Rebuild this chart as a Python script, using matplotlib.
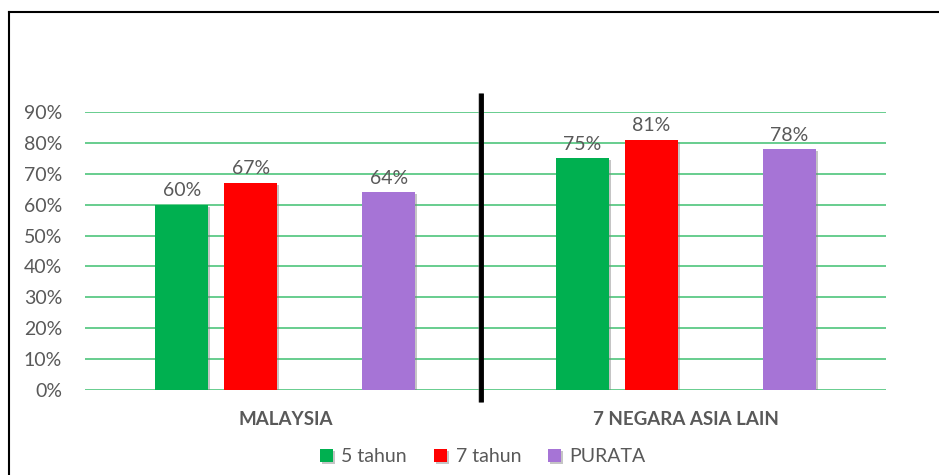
import matplotlib
matplotlib.use("Agg")
import matplotlib.pyplot as plt
import matplotlib.patheffects as pe
from matplotlib.lines import Line2D
import numpy as np

categories = ["MALAYSIA", "7 NEGARA ASIA LAIN"]
series_names = ["5 tahun", "7 tahun", "PURATA"]
values_5 = [0.60, 0.75]
values_7 = [0.67, 0.81]
values_avg = [0.64, 0.78]
yticks = [0.0, 0.1, 0.2, 0.3, 0.4, 0.5, 0.6, 0.7, 0.8, 0.9]

colors = ["#00B050", "#FF0000", "#A674D6"]
text_gray = "#595959"
grid_green = "#5CC986"

plt.rcParams["font.family"] = ["Lato", "DejaVu Sans"]

fig = plt.figure(figsize=(9.39, 4.75), dpi=100)
ax = fig.add_axes([85/939, 85/475, 801/939, 278/475])

x = np.arange(len(categories))
slot = 0.1723
width = 0.1323
offsets = [-1.5 * slot, -0.5 * slot, 1.5 * slot]
series = [values_5, values_7, values_avg]

shadow = [pe.SimplePatchShadow(offset=(1.5, -1.5), shadow_rgbFace="#7f7f7f", alpha=0.45), pe.Normal()]
for vals, off, col, name in zip(series, offsets, colors, series_names):
    bars = ax.bar(x + off, vals, width=width, color=col, label=name, zorder=3)
    for b in bars:
        b.set_path_effects(shadow)
    for xi, v in zip(x + off, vals):
        ax.annotate(f"{v*100:.0f}%", (xi, v), xytext=(0, 4), textcoords="offset points",
                    ha="center", va="bottom", fontsize=14, color=text_gray, zorder=4)

ax.set_xlim(-0.5, 1.5)
ax.set_ylim(0, 0.9)
ax.set_yticks(yticks)
ax.set_yticklabels([f"{t*100:.0f}%" for t in yticks], fontsize=14, color=text_gray)
ax.set_xticks(x)
ax.set_xticklabels(categories, fontsize=13.5, fontweight="bold", color=text_gray)
ax.tick_params(axis="y", length=0, pad=16.5)
ax.tick_params(axis="x", length=0, pad=15)
ax.yaxis.grid(True, color=grid_green, linewidth=1.3, zorder=0)
ax.set_axisbelow(True)
for s in ax.spines.values():
    s.set_visible(False)

# vertical separator line
ax.plot([0.49, 0.49], [-0.039, 0.961], color="black", linewidth=3.5, clip_on=False, zorder=5,
        solid_capstyle="butt",
        path_effects=[pe.SimpleLineShadow(offset=(-1, 0), shadow_color="#888888", alpha=0.5), pe.Normal()])

# figure border (top and left)
fig.add_artist(Line2D([9/939, 9/939], [0, 1 - 12/475], color="black", linewidth=1.5, transform=fig.transFigure))
fig.add_artist(Line2D([9/939, 1], [1 - 12/475, 1 - 12/475], color="black", linewidth=1.5, transform=fig.transFigure))

leg = fig.legend(loc="center", bbox_to_anchor=(483/939, 18/475), ncol=3, frameon=False,
                 fontsize=14, handlelength=0.65, handleheight=0.65, handletextpad=0.45,
                 columnspacing=1.4, borderaxespad=0)
for t in leg.get_texts():
    t.set_color(text_gray)

fig.savefig("out.png", dpi=100)
